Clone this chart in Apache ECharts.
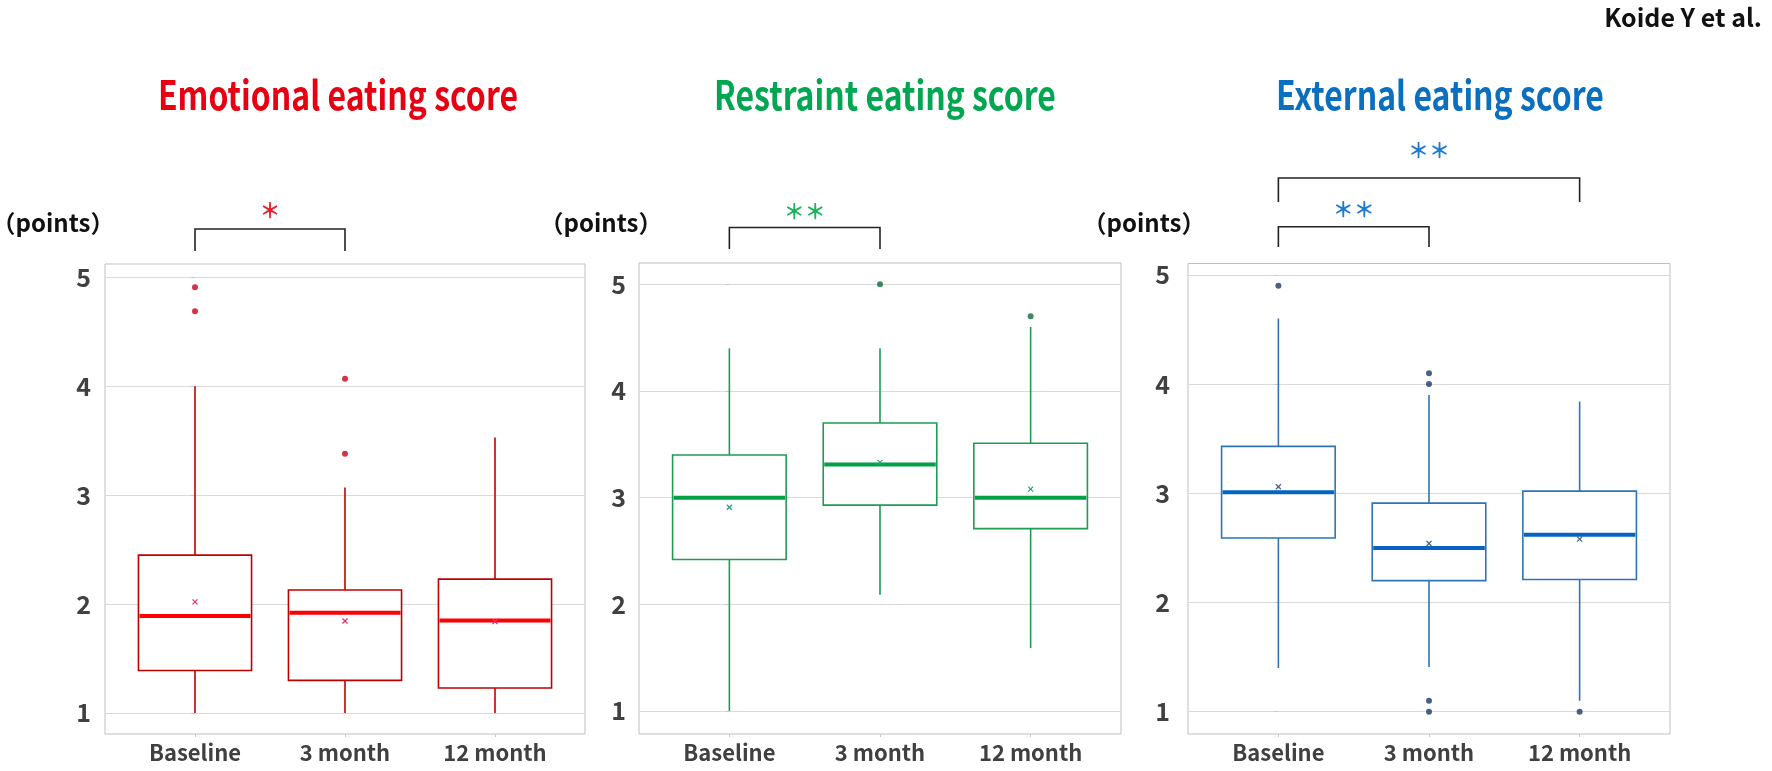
<!DOCTYPE html>
<html>
<head>
<meta charset="utf-8">
<script src="https://cdn.jsdelivr.net/npm/echarts@6/dist/echarts.min.js"></script>
<style>
html,body{margin:0;padding:0;background:#fff;}
#c{width:1772px;height:771px;}
</style>
</head>
<body>
<div id="c"></div>
<script>
// ---- data ----
const categories = ['Baseline', '3 month', '12 month'];
const yTicks = [1, 2, 3, 4, 5];
const panelTitles = ['Emotional eating score', 'Restraint eating score', 'External eating score'];
// [min, Q1, median, Q3, max]
const emotionalBox = [[1.0, 1.39, 1.89, 2.45, 4.0], [1.0, 1.30, 1.92, 2.13, 3.07], [1.0, 1.23, 1.85, 2.23, 3.53]];
const emotionalMean = [2.02, 1.845, 1.84];
const emotionalOutliers = [[0, 4.91], [0, 4.69], [1, 4.07], [1, 3.38]];
const restraintBox = [[1.0, 2.42, 3.0, 3.40, 4.40], [2.09, 2.93, 3.31, 3.70, 4.40], [1.59, 2.71, 3.0, 3.51, 4.60]];
const restraintMean = [2.91, 3.33, 3.08];
const restraintOutliers = [[1, 5.0], [2, 4.70]];
const externalBox = [[1.40, 2.59, 3.01, 3.43, 4.60], [1.41, 2.20, 2.50, 2.91, 3.90], [1.10, 2.21, 2.62, 3.02, 3.84]];
const externalMean = [3.06, 2.54, 2.58];
const externalOutliers = [[0, 4.90], [1, 4.10], [1, 4.0], [1, 1.10], [1, 1.0], [2, 1.0]];
// significance brackets: [panel, fromIndex, toIndex, label]
const brackets = [[0, 0, 1, '＊'], [1, 0, 1, '＊＊'], [2, 0, 1, '＊＊'], [2, 0, 2, '＊＊']];

// ---- style / layout ----
const FONT = '"Noto Sans CJK JP", "Noto Sans", sans-serif';
const panels = [
  {box: emotionalBox, mean: emotionalMean, out: emotionalOutliers,
   grid: {left: 105, top: 264, width: 480, height: 470}, ymin: 0.807, ymax: 5.124, labMargin: 14,
   stroke: '#c00000', median: '#ff0000', meanC: '#e0306a', outC: '#c8001a', title: '#e60012', star: '#e8202a',
   titleX: 338, pointsX: 53, brk: [{bar: 229, leg: 251, star: 210}]},
  {box: restraintBox, mean: restraintMean, out: restraintOutliers,
   grid: {left: 639, top: 263, width: 482, height: 471}, ymin: 0.784, ymax: 5.2, labMargin: 13,
   stroke: '#1e9c52', median: '#00a046', meanC: '#2aa070', outC: '#0b6b3a', title: '#00a650', star: '#1db35c',
   titleX: 885, pointsX: 601, brk: [{bar: 227.5, leg: 249, star: 211.5}]},
  {box: externalBox, mean: externalMean, out: externalOutliers,
   grid: {left: 1188, top: 263.5, width: 482, height: 470.5}, ymin: 0.796, ymax: 5.104, labMargin: 18,
   stroke: '#2e75b6', median: '#0563c1', meanC: '#4a6282', outC: '#1b3a66', title: '#0b6fc0', star: '#1f7bd0',
   titleX: 1440, pointsX: 1144, brk: [{bar: 226.7, leg: 247, star: 209.5}, {bar: 178, leg: 202, star: 150.5}]}
];
const BOX_W = 0.754;

function makeRender(p) {
  return function (params, api) {
    const x = api.value(0);
    const lo = api.coord([x, api.value(1)]);
    const q1 = api.coord([x, api.value(2)]);
    const md = api.coord([x, api.value(3)]);
    const q3 = api.coord([x, api.value(4)]);
    const hi = api.coord([x, api.value(5)]);
    const mn = api.coord([x, api.value(6)]);
    const w = api.size([BOX_W, 0])[0];
    const cx = q1[0];
    const ls = {stroke: p.stroke, lineWidth: 1.6};
    return {
      type: 'group',
      children: [
        {type: 'line', shape: {x1: cx, y1: q3[1], x2: cx, y2: hi[1]}, style: ls},
        {type: 'line', shape: {x1: cx, y1: q1[1], x2: cx, y2: lo[1]}, style: ls},
        {type: 'rect', shape: {x: cx - w / 2, y: q3[1], width: w, height: q1[1] - q3[1]},
         style: {fill: '#fff', stroke: p.stroke, lineWidth: 1.6}},
        {type: 'line', shape: {x1: cx - w / 2 + 1, y1: md[1], x2: cx + w / 2 - 1, y2: md[1]},
         style: {stroke: p.median, lineWidth: 4}},
        {type: 'line', shape: {x1: mn[0] - 2.5, y1: mn[1] - 2.5, x2: mn[0] + 2.5, y2: mn[1] + 2.5},
         style: {stroke: p.meanC, lineWidth: 1.2}},
        {type: 'line', shape: {x1: mn[0] - 2.5, y1: mn[1] + 2.5, x2: mn[0] + 2.5, y2: mn[1] - 2.5},
         style: {stroke: p.meanC, lineWidth: 1.2}}
      ]
    };
  };
}

const grids = [], xAxes = [], yAxes = [], series = [];
panels.forEach((p, k) => {
  grids.push(Object.assign({show: true, borderColor: '#bfbfbf', borderWidth: 1, backgroundColor: 'transparent'}, p.grid));
  xAxes.push({
    type: 'value', gridIndex: k, min: -0.6, max: 2.6,
    axisLine: {show: false}, splitLine: {show: false},
    axisTick: {show: true, length: 3, customValues: [0, 1, 2], lineStyle: {color: '#c8c8c8'}},
    axisLabel: {customValues: [0, 1, 2], formatter: v => categories[Math.round(v)],
      fontFamily: FONT, fontSize: 22, fontWeight: 'bold', color: '#404040', margin: 8}
  });
  yAxes.push({
    type: 'value', gridIndex: k, min: p.ymin, max: p.ymax,
    axisLine: {show: false},
    axisTick: {show: true, length: 4, customValues: yTicks, lineStyle: {color: '#c8c8c8'}},
    axisLabel: {customValues: yTicks, formatter: v => String(Math.round(v)),
      fontFamily: FONT, fontSize: 25, fontWeight: 'bold', color: '#404040', margin: p.labMargin},
    splitLine: {show: true, lineStyle: {color: '#dadada', width: 1}}
  });
  series.push({
    type: 'custom', xAxisIndex: k, yAxisIndex: k,
    renderItem: makeRender(p),
    encode: {x: 0, y: [1, 2, 3, 4, 5, 6]},
    data: categories.map((c, i) => [i].concat(p.box[i], [p.mean[i]])),
    z: 2
  });
  series.push({
    type: 'scatter', xAxisIndex: k, yAxisIndex: k,
    symbol: 'circle', symbolSize: 6,
    itemStyle: {color: p.outC},
    data: p.out, z: 3
  });
});

const chart = echarts.init(document.getElementById('c'));
chart.setOption({
  animation: false,
  textStyle: {fontFamily: FONT},
  grid: grids, xAxis: xAxes, yAxis: yAxes, series: series
});

// annotations
const graphics = [];
graphics.push({type: 'text', x: 1762, y: 17,
  style: {text: 'Koide Y et al.', align: 'right', verticalAlign: 'middle',
    font: 'bold 25px ' + FONT, fill: '#111'}});
panels.forEach((p, k) => {
  graphics.push({type: 'text', x: p.titleX, y: 95, scaleX: 0.80,
    style: {text: panelTitles[k], align: 'center', verticalAlign: 'middle',
      font: 'bold 40px ' + FONT, fill: p.title}});
  graphics.push({type: 'text', x: p.pointsX, y: 223,
    style: {text: '（points）', align: 'center', verticalAlign: 'middle',
      font: 'bold 24px ' + FONT, fill: '#111'}});
});
let bi = {0: 0, 1: 0, 2: 0};
brackets.forEach(b => {
  const k = b[0];
  const p = panels[k];
  const cfg = p.brk[bi[k]++];
  const xa = chart.convertToPixel({xAxisIndex: k}, b[1]);
  const xb = chart.convertToPixel({xAxisIndex: k}, b[2]);
  graphics.push({type: 'polyline',
    shape: {points: [[xa, cfg.leg], [xa, cfg.bar], [xb, cfg.bar], [xb, cfg.leg]]},
    style: {stroke: '#222', lineWidth: 1.6, fill: null}});
  graphics.push({type: 'text', x: (xa + xb) / 2, y: cfg.star,
    style: {text: b[3], align: 'center', verticalAlign: 'middle',
      font: 'bold 21px ' + FONT, fill: p.star}});
});
chart.setOption({graphic: graphics});
</script>
</body>
</html>
